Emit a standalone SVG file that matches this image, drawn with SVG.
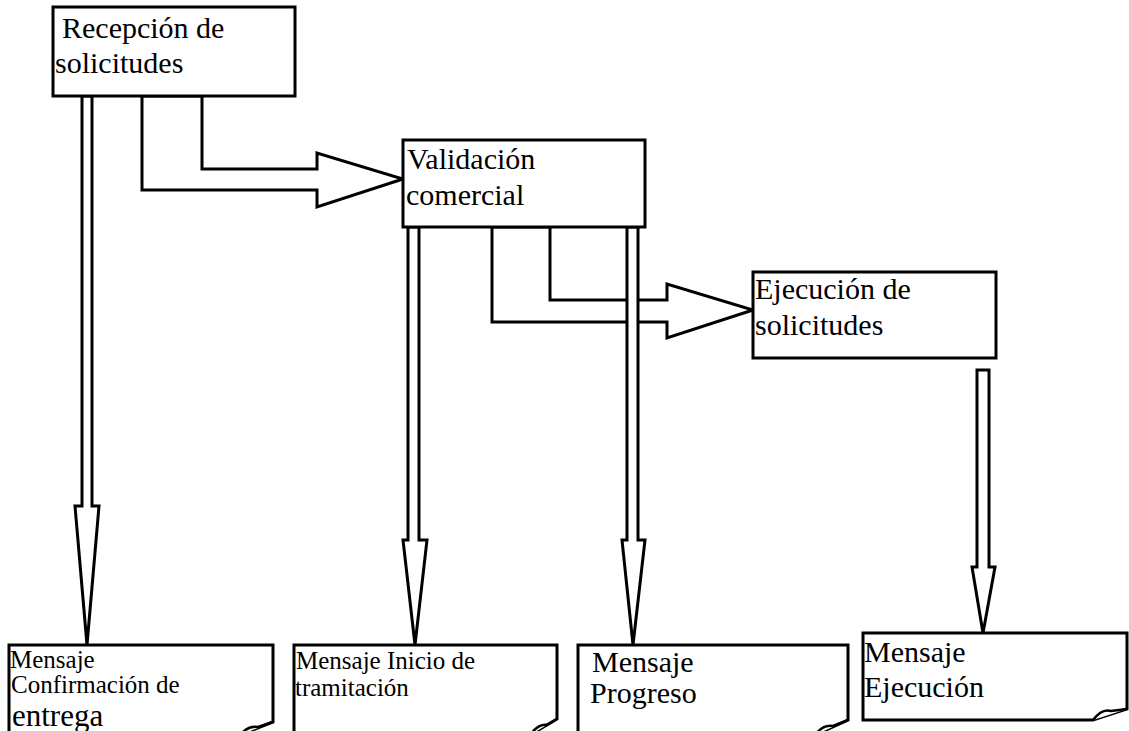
<svg xmlns="http://www.w3.org/2000/svg" width="1129" height="731" viewBox="0 0 1129 731">
  <style>
    .box { fill: #fff; stroke: #000; stroke-width: 3; }
    .arrow { fill: #fff; stroke: #000; stroke-width: 3; stroke-linejoin: miter; }
    .doc { fill: #fff; stroke: #000; stroke-width: 3; }
    .fold { fill: #fff; stroke: #000; stroke-width: 2.5; stroke-linejoin: round; }
    text { font-family: "Liberation Serif", "Times New Roman", serif; fill: #000; }
    .big { font-size: 30px; }
    .small { font-size: 25px; }
  </style>
  <rect x="0" y="0" width="1129" height="731" fill="#fff"/>

  <!-- connectors -->
  <g id="connectors">
    <!-- Recepción -> Validación -->
    <polygon class="arrow" points="142,96 142,190 317,190 317,207 403,179 317,153 317,169 202,169 202,96"/>
    <!-- Validación -> Ejecución -->
    <polygon class="arrow" points="492,227 492,322 667,322 667,338 753,310 667,284 667,300 550,300 550,227"/>
    <!-- Recepción -> Mensaje Confirmación -->
    <polygon class="arrow" points="82,96 82,506 75,506 87,645 99,506 92,506 92,96"/>
    <!-- Validación -> Mensaje Inicio -->
    <polygon class="arrow" points="408,227 408,540 403,540 415,645 427,540 419,540 419,227"/>
    <!-- Validación -> Mensaje Progreso -->
    <polygon class="arrow" points="627,227 627,540 622,540 633,645 645,540 638,540 638,227"/>
    <!-- Ejecución -> Mensaje Ejecución -->
    <polygon class="arrow" points="977,370 977,567 972,567 983,633 995,567 989,567 989,370"/>
  </g>

  <!-- process boxes -->
  <g id="recepcion">
    <rect class="box" x="53" y="7" width="242" height="89"/>
    <text class="big" x="62" y="38">Recepción de</text>
    <text class="big" x="55" y="73">solicitudes</text>
  </g>
  <g id="validacion">
    <rect class="box" x="403" y="140" width="242" height="87"/>
    <text class="big" x="407" y="169">Validación</text>
    <text class="big" x="406" y="205">comercial</text>
  </g>
  <g id="ejecucion">
    <rect class="box" x="753" y="272" width="243" height="86"/>
    <text class="big" x="755" y="299">Ejecución de</text>
    <text class="big" x="755" y="335">solicitudes</text>
  </g>

  <!-- message documents with folded corner -->
  <g id="msg-confirmacion">
    <path class="doc" d="M9,745 L9,645 L273,645 L273,722 L240,735"/>
    <path class="fold" d="M240,735 C246,728 252,726 258,727 L273,722"/>
    <text class="small" x="10" y="668">Mensaje</text>
    <text class="small" x="11" y="693">Confirmación de</text>
    <text x="12" y="726" style="font-size:31px">entrega</text>
  </g>
  <g id="msg-inicio">
    <path class="doc" d="M294,745 L294,645 L557,645 L557,719 L530,735"/>
    <path class="fold" d="M530,735 C536,727 541,724 547,725 L557,719"/>
    <text class="small" x="296" y="669">Mensaje Inicio de</text>
    <text class="small" x="295" y="696">tramitación</text>
  </g>
  <g id="msg-progreso">
    <path class="doc" d="M578,745 L578,645 L848,645 L848,720 L815,735"/>
    <path class="fold" d="M815,735 C821,727 827,725 833,726 L848,720"/>
    <text class="big" x="592" y="672">Mensaje</text>
    <text class="big" x="590" y="703">Progreso</text>
  </g>
  <g id="msg-ejecucion">
    <path class="doc" d="M1093,720 L863,720 L863,633 L1127,633 L1127,709 Z"/>
    <path class="fold" d="M1093,720 C1099,712 1105,709 1111,711 L1127,709"/>
    <text class="big" x="864" y="662">Mensaje</text>
    <text class="big" x="864" y="697">Ejecución</text>
  </g>
</svg>
